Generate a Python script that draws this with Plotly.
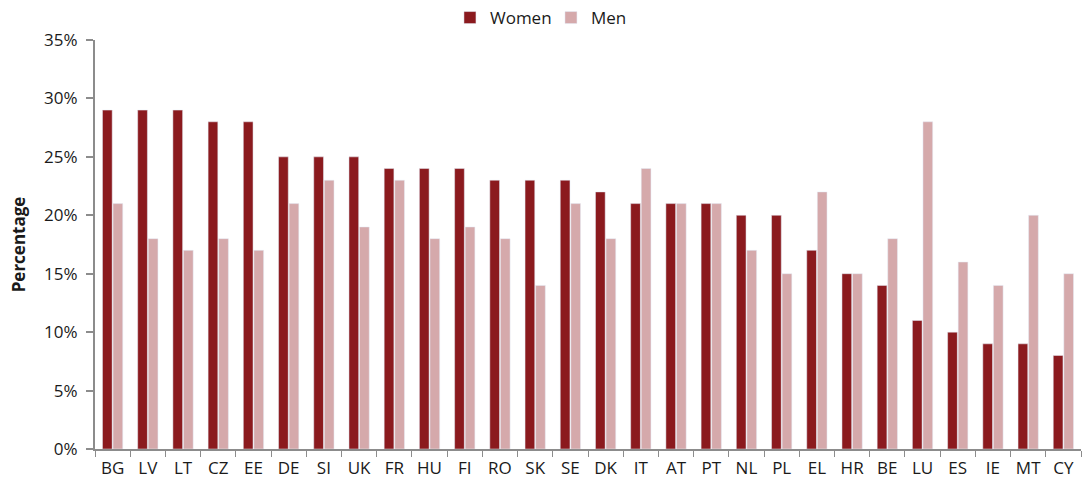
import plotly.graph_objects as go

countries = ["BG", "LV", "LT", "CZ", "EE", "DE", "SI", "UK", "FR", "HU", "FI", "RO", "SK", "SE",
             "DK", "IT", "AT", "PT", "NL", "PL", "EL", "HR", "BE", "LU", "ES", "IE", "MT", "CY"]
women = [29, 29, 29, 28, 28, 25, 25, 25, 24, 24, 24, 23, 23, 23,
         22, 21, 21, 21, 20, 20, 17, 15, 14, 11, 10, 9, 9, 8]
men = [21, 18, 17, 18, 17, 21, 23, 19, 23, 18, 19, 18, 14, 21,
       18, 24, 21, 21, 17, 15, 22, 15, 18, 28, 16, 14, 20, 15]

FONT = "Open Sans, DejaVu Sans, sans-serif"
AXIS_GREY = "#8c8c8c"

fig = go.Figure()
fig.add_trace(go.Bar(name="Women", x=countries, y=women, marker_color="#8b1a1e"))
fig.add_trace(go.Bar(name="Men", x=countries, y=men, marker_color="#d5a9ab"))

fig.update_layout(
    width=1085, height=484,
    margin=dict(l=95, r=4, t=40, b=35, autoexpand=False),
    paper_bgcolor="white", plot_bgcolor="white",
    barmode="group", bargap=0.4, bargroupgap=0.08,
    font=dict(family=FONT, size=17, color="#1a1a1a"),
    legend=dict(orientation="h", x=0.36, xanchor="left", y=1.0, yanchor="top",
                yref="container", font=dict(size=17), tracegroupgap=0,
                entrywidth=56, entrywidthmode="pixels"),
    showlegend=True,
)

fig.update_xaxes(
    showline=True, linecolor=AXIS_GREY, linewidth=2,
    ticks="outside", tickson="boundaries", ticklen=6, tickcolor=AXIS_GREY, tickwidth=1,
    showgrid=False, tickfont=dict(size=17), tickangle=0, ticklabelstandoff=3,
)
fig.update_yaxes(
    range=[0, 35], dtick=5, ticksuffix="%",
    showline=True, linecolor=AXIS_GREY, linewidth=2,
    ticks="outside", ticklen=7, tickcolor=AXIS_GREY, tickwidth=2,
    showgrid=False, zeroline=False, tickfont=dict(size=17), ticklabelstandoff=5,
    title=dict(text="<b>Percentage</b>", font=dict(size=17), standoff=14),
)

fig.write_html("out.html")
